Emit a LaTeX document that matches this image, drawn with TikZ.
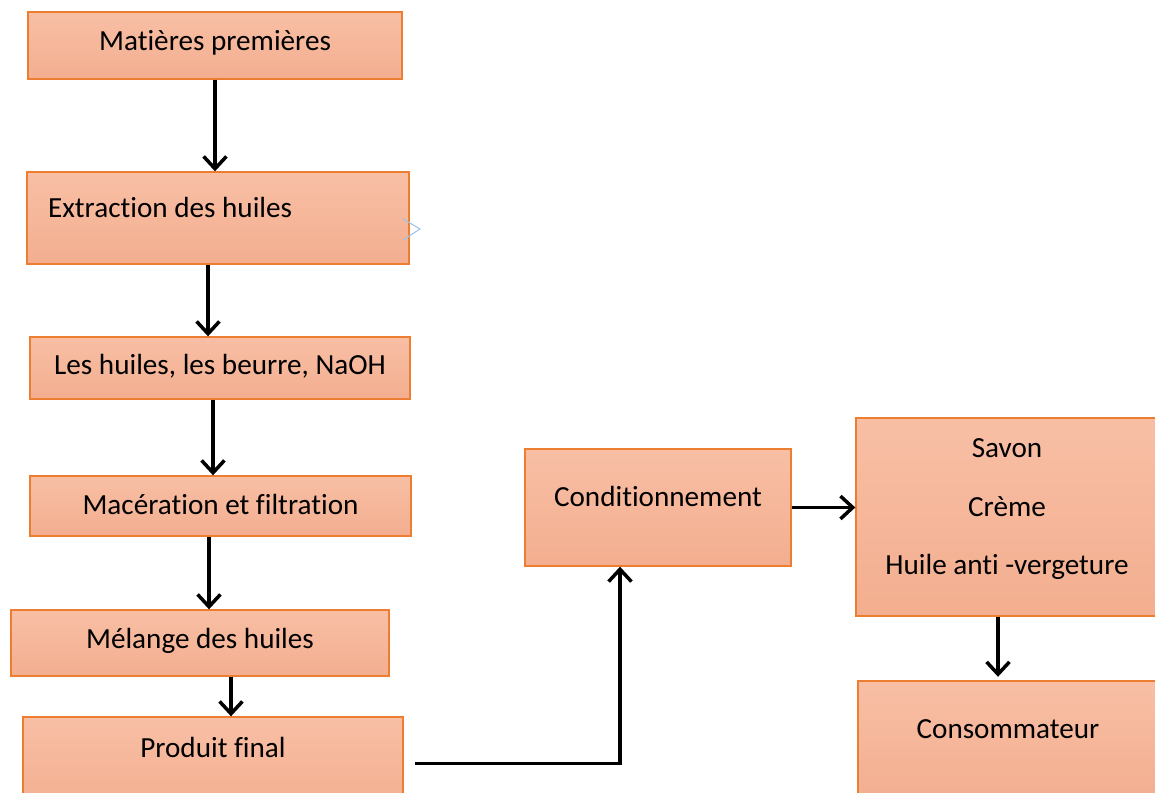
\documentclass[tikz,border=0pt]{standalone}
\usepackage{fontspec}
\setmainfont[Ligatures=NoCommon]{Carlito}
\usetikzlibrary{arrows.meta}

\definecolor{contour}{RGB}{237,125,49}
\definecolor{hautfond}{RGB}{248,191,165}
\definecolor{basfond}{RGB}{243,174,143}
\definecolor{bleupale}{RGB}{157,195,230}

\begin{document}
\begin{tikzpicture}[x=0.02cm, y=-0.02cm,
    etape/.style={draw=contour, line width=0.8pt, top color=hautfond, bottom color=basfond,
        font=\fontsize{16.6}{33.45}\selectfont, text height=12pt},
    fleche/.style={line width=2pt, -{Straight Barb[length=7pt, width=13pt]}}]

    \useasboundingbox (0, 0) rectangle (1155, 793);

    % colonne de gauche
    \node[etape, minimum width=7.48cm, minimum height=1.34cm, text depth=5.8pt] (mat) at (215, 45.5) {Matières premières};
    \node[etape, minimum width=7.64cm, minimum height=1.84cm, text depth=13.1pt,
          text width=6.8cm, inner xsep=0.42cm, align=flush left] (ext) at (218, 218) {Extraction des huiles};
    \node[etape, minimum width=7.6cm, minimum height=1.24cm, text depth=4.1pt] (huiles) at (220, 368) {Les huiles, les beurre, NaOH};
    \node[etape, minimum width=7.62cm, minimum height=1.2cm, text depth=1.8pt] (mac) at (220.5, 506) {Macération et filtration};
    \node[etape, minimum width=7.56cm, minimum height=1.32cm, text depth=6.3pt] (mel) at (200, 643) {Mélange des huiles};
    \node[etape, minimum width=7.6cm, minimum height=1.86cm, text depth=19.4pt] (prod) at (213, 763.5) {Produit final};

    % partie droite
    \node[etape, minimum width=5.32cm, minimum height=2.34cm, text depth=13.7pt] (cond) at (658, 507.5) {Conditionnement};
    \node[etape, minimum width=6.04cm, minimum height=3.96cm, text height=78.9pt, text depth=13.1pt, align=center] (liste) at (1007, 517)
        {Savon\\Crème\\Huile anti -vergeture};
    \node[etape, minimum width=6cm, minimum height=2.38cm, text depth=14.8pt] (cons) at (1008, 740.5) {Consommateur};

    \draw[bleupale, line width=0.6pt] (403, 219) -- (420, 229) -- (403, 240);

    \draw[fleche] (mat.south) -- (mat.south |- ext.north);
    \draw[fleche] ([xshift=-0.2cm]ext.south) -- ([xshift=-0.2cm]ext.south |- huiles.north);
    \draw[fleche] ([xshift=-0.14cm]huiles.south) -- ([xshift=-0.14cm]huiles.south |- mac.north);
    \draw[fleche] ([xshift=-0.23cm]mac.south) -- ([xshift=-0.23cm]mac.south |- mel.north);
    \draw[fleche] ([xshift=0.62cm]mel.south) -- ([xshift=0.62cm]mel.south |- prod.north);
    \draw[fleche] ([xshift=0.22cm]prod.east) -| ([xshift=-0.76cm]cond.south);
    \draw[fleche] (cond.east) -- (cond.east -| liste.west);
    \draw[fleche, shorten >=2pt] ([xshift=-0.18cm]liste.south) -- ([xshift=-0.18cm]liste.south |- cons.north);

\end{tikzpicture}
\end{document}
